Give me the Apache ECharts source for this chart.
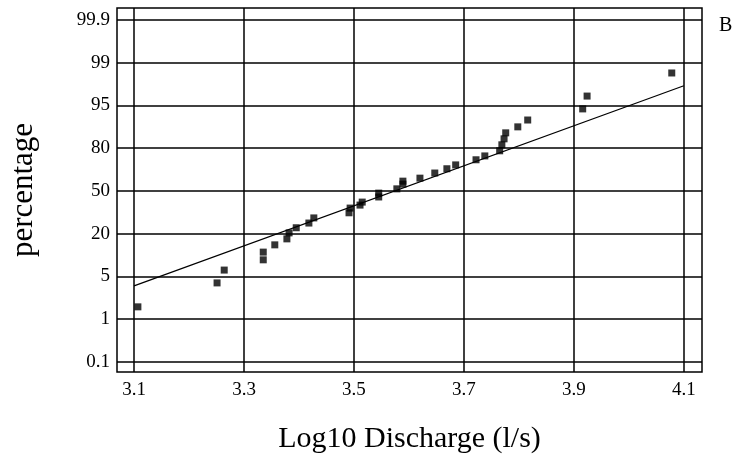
<!DOCTYPE html>
<html>
<head>
<meta charset="utf-8">
<title>Log10 Discharge probability plot</title>
<script src="https://cdn.jsdelivr.net/npm/echarts@6/dist/echarts.min.js"></script>
<style>
    html, body { margin: 0; padding: 0; background: #fff; }
    #chartDiv { width: 742px; height: 461px; }
</style>
</head>
<body>
<div id="chartDiv"></div>
<script>
    // probability axis: gridlines are evenly spaced, y values are positions on it (0 = 0.1 %, 8 = 99.9 %)
    var yTickLabels = ['0.1', '1', '5', '20', '50', '80', '95', '99', '99.9'];
    var yTickPos = [0, 1, 2, 3, 4, 5, 6, 7, 8];
    var xTicks = [3.1, 3.3, 3.5, 3.7, 3.9, 4.1];

    // observed points
    var obsX = [3.107, 3.251, 3.264, 3.335, 3.335, 3.356, 3.378, 3.382, 3.395, 3.418,
        3.427, 3.491, 3.493, 3.511, 3.515, 3.545, 3.545, 3.578, 3.589, 3.589,
        3.620, 3.647, 3.669, 3.685, 3.722, 3.738, 3.765, 3.769, 3.773, 3.776,
        3.798, 3.816, 3.916, 3.924, 4.078];
    var obsY = [1.29, 1.85, 2.15, 2.39, 2.57, 2.74, 2.88, 3.02, 3.14, 3.25,
        3.37, 3.49, 3.60, 3.67, 3.74, 3.86, 3.95, 4.05, 4.16, 4.23,
        4.30, 4.42, 4.52, 4.61, 4.73, 4.82, 4.94, 5.08, 5.22, 5.36,
        5.50, 5.66, 5.92, 6.22, 6.76];

    // fitted line end points
    var fitX = [3.1, 4.1];
    var fitY = [1.78, 6.46];

    var serif = '"Liberation Serif", "DejaVu Serif", serif';

    var chart = echarts.init(document.getElementById('chartDiv'));
    chart.setOption({
        backgroundColor: '#fff',
        animation: false,
        grid: {
            left: 117, top: 8, width: 585, height: 364,
            show: true, borderColor: '#000', borderWidth: 1.5
        },
        graphic: [{
            type: 'text', left: 719, top: 16,
            style: { text: 'B', font: '20px ' + serif, fill: '#000' }
        }],
        xAxis: {
            type: 'value', min: 3.069, max: 4.133,
            name: 'Log10 Discharge (l/s)', nameLocation: 'middle', nameGap: 52,
            nameTextStyle: { fontFamily: serif, fontSize: 30, color: '#000' },
            axisLine: { show: false },
            axisTick: { show: false, customValues: xTicks },
            axisLabel: {
                customValues: xTicks, margin: 9,
                fontFamily: serif, fontSize: 19, color: '#000',
                formatter: function (v) { return v.toFixed(1); }
            },
            splitLine: { show: true, lineStyle: { color: '#000', width: 1.5 } }
        },
        yAxis: {
            type: 'value', min: -0.234, max: 8.28,
            name: 'percentage', nameLocation: 'middle', nameGap: 78, nameRotate: 90,
            nameTextStyle: { fontFamily: serif, fontSize: 31, color: '#000' },
            axisLine: { show: false },
            axisTick: { show: false, customValues: yTickPos },
            axisLabel: {
                customValues: yTickPos, margin: 7,
                fontFamily: serif, fontSize: 19, color: '#000',
                formatter: function (v) { return yTickLabels[Math.round(v)]; }
            },
            splitLine: { show: true, lineStyle: { color: '#000', width: 1.5 } }
        },
        series: [{
            type: 'line',
            data: fitX.map(function (x, i) { return [x, fitY[i]]; }),
            showSymbol: false,
            lineStyle: { color: '#000', width: 1.2 },
            z: 3
        }, {
            type: 'scatter',
            data: obsX.map(function (x, i) { return [x, obsY[i]]; }),
            symbol: 'rect',
            symbolSize: 7,
            itemStyle: { color: '#000' },
            z: 4
        }]
    });
</script>
</body>
</html>
